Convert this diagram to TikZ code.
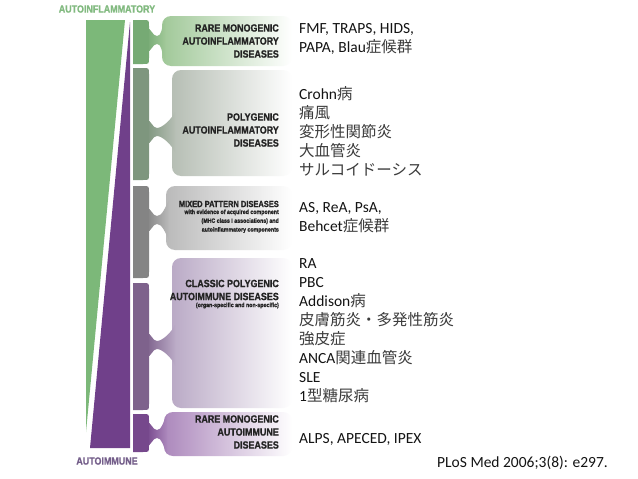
\documentclass[tikz,border=0pt]{standalone}
\usepackage{fontspec}
\setmainfont{Carlito}
\newfontfamily\jpfont{Noto Sans CJK JP}
\newfontfamily\capsfont[FakeStretch=0.85, BoldFont={Liberation Sans Bold},
  BoldFeatures={FakeBold=1}]{Liberation Sans}
\usepackage{xcolor}
\usepackage{tikz}
\usetikzlibrary{positioning}

\definecolor{wedgegreen}{RGB}{124,184,121}
\definecolor{wedgepurple}{RGB}{112,64,138}
\definecolor{inflamgreen}{RGB}{130,186,128}
\definecolor{immunegray}{RGB}{116,94,138}
\definecolor{labelgray}{RGB}{35,35,35}
\definecolor{listblack}{RGB}{20,20,20}
\definecolor{jpgray}{RGB}{60,60,60}
\definecolor{bandA}{RGB}{118,170,116}
\definecolor{boxA}{RGB}{160,200,152}
\definecolor{bandB}{RGB}{126,150,126}
\definecolor{boxB}{RGB}{182,190,180}
\definecolor{bandC}{RGB}{132,132,132}
\definecolor{boxC}{RGB}{186,186,186}
\definecolor{bandD}{RGB}{126,98,140}
\definecolor{boxD}{RGB}{186,170,198}
\definecolor{bandE}{RGB}{118,72,140}
\definecolor{boxE}{RGB}{172,136,188}

\newcommand{\ja}[1]{{\jpfont\color{jpgray}#1}}

\begin{document}
\begin{tikzpicture}[x=1pt, y=-1pt,
    catlabel/.style={anchor=east, align=right, inner sep=0pt, text=labelgray,
      font=\capsfont\bfseries\fontsize{10.5}{13}\selectfont},
    catnote/.style={align=right, inner sep=0pt, text=labelgray,
      font=\capsfont\bfseries\fontsize{6.2}{8.8}\selectfont},
    sidelabel/.style={inner sep=0pt, font=\capsfont\bfseries\fontsize{10.5}{12}\selectfont},
    disease/.style={anchor=north west, align=left, inner sep=0pt, text=listblack,
      font=\fontsize{15.5}{19}\selectfont}]
  \useasboundingbox[fill=white] (0,0) rectangle (638,479);

  \fill[wedgegreen] (86,20) -- (125,20) -- (86,432) -- cycle;
  \fill[wedgepurple] (130,22) -- (130,448) -- (90,448) -- cycle;

  % band, neck and box of each group
  \foreach \bandtop/\bandbot/\neck/\boxtop/\boxbot/\boxleft/\bandcol/\boxcol in {
      20/64/40/16/66/162/bandA/boxA,
      68/180/132/70/176/172/bandB/boxB,
      186/278/220/186/250/166/bandC/boxC,
      283/410/345/258/408/172/bandD/boxD,
      414/452/434/412/456/164/bandE/boxE}
  {
    \shade[left color=\boxcol, right color=white, rounded corners=9]
      (\boxleft,\boxtop) rectangle (292,\boxbot);
    \shade[left color=\bandcol, right color=\boxcol]
      (146,\neck-12) .. controls (152,\neck-12) and (152,\neck-4) .. (157,\neck-4)
      .. controls (162,\neck-4) and (\boxleft-1,\neck-12) .. (\boxleft+3,\neck-20)
      -- (\boxleft+3,\neck+20)
      .. controls (\boxleft-1,\neck+12) and (162,\neck+4) .. (157,\neck+4)
      .. controls (152,\neck+4) and (152,\neck+12) .. (146,\neck+12) -- cycle;
    \fill[\bandcol] (133,\bandtop) -- (143,\bandtop) .. controls (149,\bandtop) .. (149,\bandtop+6)
      -- (149,\bandbot-6) .. controls (149,\bandbot) .. (143,\bandbot) -- (133,\bandbot) -- cycle;
  }

  \node[sidelabel, text=inflamgreen] (autoInf) at (107,9) {AUTOINFLAMMATORY};
  \node[sidelabel, text=immunegray] (autoImm) at (107,461) {AUTOIMMUNE};

  \node[catlabel] (rareInf) at (279,41) {RARE MONOGENIC\\AUTOINFLAMMATORY\\DISEASES};
  \node[catlabel] (polyInf) at (279,130) {POLYGENIC\\AUTOINFLAMMATORY\\DISEASES};
  \node[catlabel, font=\capsfont\bfseries\fontsize{8.8}{10}\selectfont] (mixed) at (279,204)
    {MIXED PATTERN DISEASES};
  \node[catnote, below left=2pt and 0pt of mixed.south east] (mixedNote)
    {with evidence of acquired component\\(MHC class I associations) and\\autoinflammatory components};
  \node[catlabel] (classic) at (279,290) {CLASSIC POLYGENIC\\AUTOIMMUNE DISEASES};
  \node[catnote, below left=2pt and 0pt of classic.south east] (classicNote)
    {(organ-specific and non-specific)};
  \node[catlabel] (rareImm) at (279,432) {RARE MONOGENIC\\AUTOIMMUNE\\DISEASES};

  \node[disease] (listRareInf) at (299,23) {FMF, TRAPS, HIDS,\\PAPA, Blau\ja{症候群}};
  \node[disease] (listPolyInf) at (299,86) {Crohn\ja{病}\\\ja{痛風}\\\ja{変形性関節炎}\\\ja{大血管炎}\\\ja{サルコイドーシス}};
  \node[disease] (listMixed) at (299,202) {AS, ReA, PsA,\\Behcet\ja{症候群}};
  \node[disease] (listClassic) at (299,258) {RA\\PBC\\Addison\ja{病}\\\ja{皮膚筋炎・多発性筋炎}\\\ja{強皮症}\\ANCA\ja{関連血管炎}\\SLE\\1\ja{型糖尿病}};
  \node[disease] (listRareImm) at (299,433) {ALPS, APECED, IPEX};
  \node[disease, anchor=west] (cite) at (437,463) {PLoS Med 2006;3(8): e297.};
\end{tikzpicture}
\end{document}
